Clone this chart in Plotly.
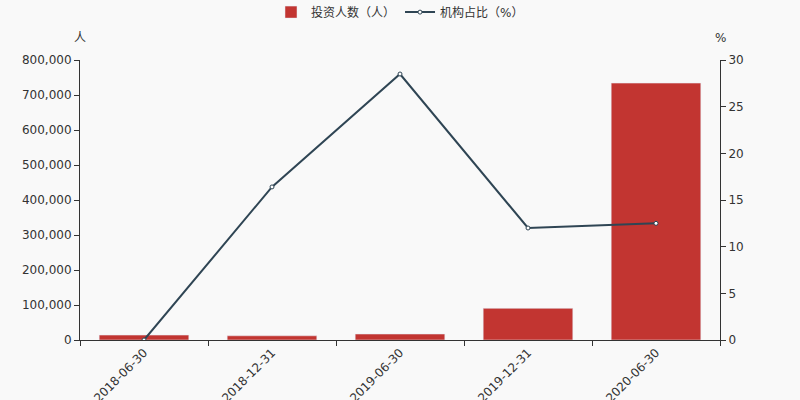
import plotly.graph_objects as go

dates = ["2018-06-30", "2018-12-31", "2019-06-30", "2019-12-31", "2020-06-30"]
investors = [14000, 12000, 17000, 90500, 734000]
inst_ratio = [0.0, 16.4, 28.5, 12.0, 12.5]

left_ticks = [0, 100000, 200000, 300000, 400000, 500000, 600000, 700000, 800000]
right_ticks = [0, 5, 10, 15, 20, 25, 30]

font = "DejaVu Sans, Noto Sans CJK SC, sans-serif"

fig = go.Figure()
fig.add_trace(go.Bar(
    x=dates, y=investors, name="投资人数（人）",
    marker=dict(color="#c23531"), width=0.7,
))
fig.add_trace(go.Scatter(
    x=dates, y=inst_ratio, name="机构占比（%）", yaxis="y2",
    mode="lines+markers",
    line=dict(color="#2f4554", width=2),
    marker=dict(symbol="circle", size=4, color="#ffffff",
                line=dict(color="#2f4554", width=1)),
))

fig.update_layout(
    width=800, height=400,
    margin=dict(l=80, r=80, t=60, b=60, autoexpand=False),
    paper_bgcolor="#f9f9f9", plot_bgcolor="#f9f9f9",
    font=dict(family=font, size=12, color="#333333"),
    showlegend=True,
    legend=dict(orientation="h", x=0.5, xanchor="center", y=1.171, yanchor="middle",
                font=dict(size=12, color="#333333"), bgcolor="rgba(0,0,0,0)"),
    xaxis=dict(
        type="category", tickangle=-45, tickson="boundaries",
        ticks="outside", ticklen=5, tickcolor="#333333",
        showline=True, linecolor="#333333", showgrid=False, zeroline=False,
    ),
    yaxis=dict(
        range=[0, 800000], tickvals=left_ticks, tickformat=",",
        ticks="outside", ticklen=5, tickcolor="#333333",
        showline=True, linecolor="#333333", showgrid=False, zeroline=False,
    ),
    yaxis2=dict(
        range=[0, 30], tickvals=right_ticks, overlaying="y", side="right",
        ticks="outside", ticklen=5, tickcolor="#333333",
        showline=True, linecolor="#333333", showgrid=False, zeroline=False,
    ),
    annotations=[
        dict(text="人", xref="paper", yref="paper", x=0, y=1.079, showarrow=False,
             xanchor="center", yanchor="middle", font=dict(size=12, color="#333333")),
        dict(text="%", xref="paper", yref="paper", x=1, y=1.079, showarrow=False,
             xanchor="center", yanchor="middle", font=dict(size=12, color="#333333")),
    ],
)

# drop the default 8px body margin so the chart fills the window
fig.write_html(
    "out.html",
    config={"displayModeBar": False},
    post_script="document.body.style.margin='0';document.body.style.background='#f9f9f9';",
)
